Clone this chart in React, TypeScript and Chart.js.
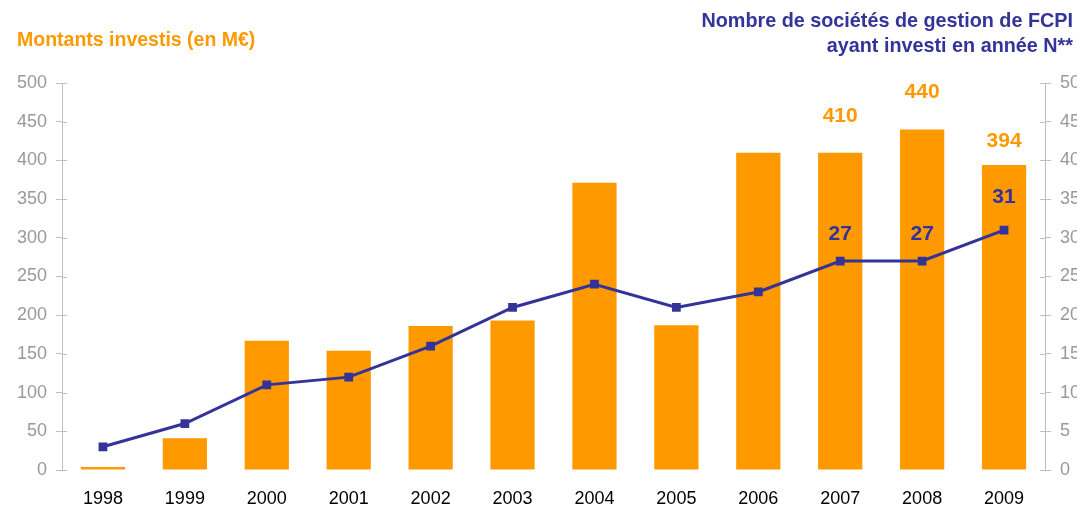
import React, { useEffect, useRef } from "react";
import { Chart, registerables } from "chart.js";

Chart.register(...registerables);

const categories = ["1998", "1999", "2000", "2001", "2002", "2003", "2004", "2005", "2006", "2007", "2008", "2009"];
const montants = [4, 41, 167, 154, 186, 193, 371, 187, 410, 410, 440, 394];
const societes = [3, 6, 11, 12, 16, 21, 24, 21, 23, 27, 27, 31];
const leftTicks = [0, 50, 100, 150, 200, 250, 300, 350, 400, 450, 500];
const rightTicks = [0, 5, 10, 15, 20, 25, 30, 35, 40, 45, 50];
const labeledBarIdx = [9, 10, 11];
const labeledLineIdx = [9, 10, 11];

const leftTitle = "Montants investis (en M€)";
const rightTitle1 = "Nombre de sociétés de gestion de FCPI";
const rightTitle2 = "ayant investi en année N**";

const ORANGE = "#FF9900";
const NAVY = "#333399";
const AXIS = "#BFBFBF";
const FONT = '"Liberation Sans", Arial, sans-serif';

const overlayPlugin = {
  id: "overlay",
  afterDraw(chart: any) {
    const ctx = chart.ctx;
    const area = chart.chartArea;
    ctx.save();
    ctx.strokeStyle = AXIS;
    ctx.lineWidth = 1;
    const y = chart.scales.y;
    const y1 = chart.scales.y1;
    leftTicks.forEach((v) => {
      const py = Math.round(y.getPixelForValue(v)) + 0.5;
      ctx.beginPath();
      ctx.moveTo(area.left, py);
      ctx.lineTo(area.left + 5, py);
      ctx.stroke();
    });
    rightTicks.forEach((v) => {
      const py = Math.round(y1.getPixelForValue(v)) + 0.5;
      ctx.beginPath();
      ctx.moveTo(area.right - 5, py);
      ctx.lineTo(area.right, py);
      ctx.stroke();
    });
    const barMeta = chart.getDatasetMeta(0);
    const lineMeta = chart.getDatasetMeta(1);
    const barOffsets = chart.options.plugins.overlay.barOffsets;
    const lineOffsets = chart.options.plugins.overlay.lineOffsets;
    ctx.font = "bold 21px " + FONT;
    ctx.textAlign = "center";
    ctx.textBaseline = "middle";
    ctx.fillStyle = ORANGE;
    labeledBarIdx.forEach((i, k) => {
      const el = barMeta.data[i];
      ctx.fillText(String(montants[i]), el.x, el.y - barOffsets[k]);
    });
    ctx.fillStyle = NAVY;
    labeledLineIdx.forEach((i, k) => {
      const el = lineMeta.data[i];
      ctx.fillText(String(societes[i]), el.x, el.y - lineOffsets[k]);
    });
    ctx.textBaseline = "alphabetic";
    ctx.textAlign = "left";
    ctx.fillStyle = ORANGE;
    ctx.font = "bold 19.5px " + FONT;
    ctx.fillText(leftTitle, 17, 46);
    ctx.fillStyle = NAVY;
    ctx.textAlign = "right";
    ctx.font = "bold 19.8px " + FONT;
    ctx.fillText(rightTitle1, 1073, 27);
    ctx.fillText(rightTitle2, 1073, 52);
    ctx.restore();
  },
};

export default function App() {
  const ref = useRef<HTMLCanvasElement>(null);
  useEffect(() => {
    const canvas = ref.current!;
    const chart = new Chart(canvas, {
      type: "bar",
      data: {
        labels: categories,
        datasets: [
          {
            type: "bar",
            data: montants,
            backgroundColor: ORANGE,
            yAxisID: "y",
            categoryPercentage: 1,
            barPercentage: 0.54,
            order: 2,
          },
          {
            type: "line",
            data: societes,
            borderColor: NAVY,
            backgroundColor: NAVY,
            borderWidth: 3,
            pointStyle: "rect",
            pointRadius: 6.2,
            pointBorderWidth: 0,
            pointBackgroundColor: NAVY,
            yAxisID: "y1",
            tension: 0,
            order: 1,
          } as any,
        ],
      },
      options: {
        animation: false,
        responsive: false,
        maintainAspectRatio: false,
        layout: { padding: { top: 83, left: 0, right: 0, bottom: 0 } },
        plugins: {
          legend: { display: false },
          tooltip: { enabled: false },
          overlay: { barOffsets: [36, 37, 24], lineOffsets: [27, 27, 33] },
        } as any,
        scales: {
          x: {
            grid: { display: false },
            border: { display: false },
            ticks: { color: "#000", font: { family: FONT, size: 18 }, padding: 10 },
            afterFit: (s: any) => { s.height = 38; },
          },
          y: {
            position: "left",
            min: 0,
            max: 500,
            afterBuildTicks: (s: any) => { s.ticks = leftTicks.map((v) => ({ value: v })); },
            ticks: { color: "#999999", font: { family: FONT, size: 18 }, padding: 9 },
            grid: { drawOnChartArea: false, drawTicks: true, tickLength: 6, color: AXIS },
            border: { color: AXIS, width: 1 },
            afterFit: (s: any) => { s.width = 62; },
          },
          y1: {
            position: "right",
            min: 0,
            max: 50,
            afterBuildTicks: (s: any) => { s.ticks = rightTicks.map((v) => ({ value: v })); },
            ticks: { color: "#999999", font: { family: FONT, size: 18 }, padding: 9 },
            grid: { drawOnChartArea: false, drawTicks: true, tickLength: 6, color: AXIS },
            border: { color: AXIS, width: 1 },
            afterFit: (s: any) => { s.width = 55; },
          },
        },
      },
      plugins: [overlayPlugin],
    });
    return () => chart.destroy();
  }, []);
  return (
    <div style={{ position: "absolute", left: 0, top: 0, width: 1077, height: 508, overflow: "hidden", background: "#fff" }}>
      <canvas ref={ref} width={1100} height={508} style={{ width: 1100, height: 508, display: "block" }} />
    </div>
  );
}
